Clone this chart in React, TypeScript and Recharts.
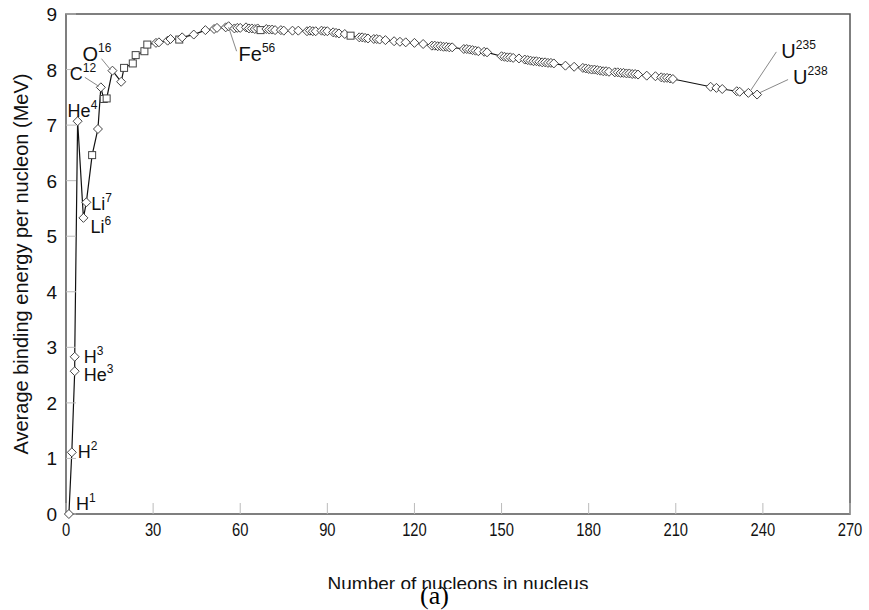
import { LineChart, Line, XAxis, YAxis, ReferenceArea, ReferenceDot } from "recharts";

// nucleon number A and binding energy per nucleon (MeV)
const lightA = [1, 2, 3, 3, 4, 6, 7, 9, 11, 12, 13, 14, 16, 19, 20, 23, 24, 27, 28];
const lightB = [0, 1.11, 2.57, 2.83, 7.07, 5.33, 5.61, 6.46, 6.93, 7.68, 7.47, 7.48, 7.98, 7.78, 8.03, 8.11, 8.26, 8.33, 8.45];

const ironA = [31, 32, 35, 36, 39, 40, 44, 48, 51, 52, 55, 56, 58, 59, 60, 62, 63, 64, 65, 66, 67];
const ironB = [8.48, 8.49, 8.52, 8.55, 8.54, 8.58, 8.63, 8.71, 8.73, 8.75, 8.76, 8.78, 8.74, 8.75, 8.75, 8.76, 8.74, 8.74, 8.73, 8.74, 8.71];

const midA = [69, 70, 71, 72, 74, 75, 78, 80, 83, 84, 85, 86, 88, 89, 90, 92, 93, 94, 96, 98];
const midB = [8.73, 8.72, 8.72, 8.71, 8.71, 8.7, 8.7, 8.7, 8.69, 8.7, 8.69, 8.69, 8.7, 8.69, 8.69, 8.67, 8.66, 8.65, 8.64, 8.61];

const tinA = [101, 102, 103, 104, 106, 107, 108, 110, 113, 115, 117, 120, 123, 126, 127, 128, 129, 130, 131, 132, 133];
const tinB = [8.58, 8.58, 8.57, 8.56, 8.55, 8.55, 8.54, 8.53, 8.51, 8.5, 8.49, 8.48, 8.46, 8.43, 8.43, 8.42, 8.42, 8.41, 8.41, 8.4, 8.4];

const rareA = [137, 138, 139, 140, 141, 142, 144, 145, 150, 151, 152, 153, 154, 156, 158, 159, 160, 161, 162, 163, 164, 165, 166, 167, 168];
const rareB = [8.37, 8.37, 8.36, 8.35, 8.34, 8.33, 8.32, 8.31, 8.24, 8.23, 8.22, 8.22, 8.21, 8.2, 8.18, 8.17, 8.16, 8.15, 8.15, 8.14, 8.13, 8.13, 8.12, 8.12, 8.11];

const leadA = [172, 175, 178, 179, 180, 181, 182, 183, 184, 185, 186, 187, 189, 190, 191, 192, 193, 194, 195, 196, 197, 200, 203, 205, 206, 207, 208, 209];
const leadB = [8.07, 8.05, 8.03, 8.02, 8.01, 8.0, 8.0, 7.99, 7.98, 7.97, 7.97, 7.96, 7.95, 7.95, 7.94, 7.94, 7.93, 7.93, 7.92, 7.92, 7.91, 7.89, 7.88, 7.86, 7.85, 7.85, 7.84, 7.83];

const heavyA = [222, 224, 226, 231, 232, 235, 238];
const heavyB = [7.69, 7.67, 7.65, 7.61, 7.6, 7.58, 7.55];

// nuclei drawn with a square marker instead of a diamond
const squareNuclei = [9, 13, 14, 20, 23, 24, 27, 28, 39, 67, 98];

const xTicks = [0, 30, 60, 90, 120, 150, 180, 210, 240, 270];
const yTicks = [0, 1, 2, 3, 4, 5, 6, 7, 8, 9];

// labelled nuclides
const labelSymbols = ["H", "H", "H", "He", "He", "Li", "Li", "C", "O", "Fe", "U", "U"];
const labelMasses = ["1", "2", "3", "3", "4", "6", "7", "12", "16", "56", "235", "238"];
const labelA = [1, 2, 3, 3, 4, 6, 7, 12, 16, 56, 235, 238];
const labelB = [0, 1.11, 2.83, 2.57, 7.07, 5.33, 5.61, 7.68, 7.98, 8.78, 7.58, 7.55];

// text offset from the point (px), optional leader line [x1, y1, x2, y2]
const labelLayout: { dx: number; dy: number; lead?: number[] }[] = [
  { dx: 7, dy: -4 },
  { dx: 6, dy: 6 },
  { dx: 9, dy: 6 },
  { dx: 9, dy: 10 },
  { dx: -10, dy: -4 },
  { dx: 7, dy: 15 },
  { dx: 5, dy: 8 },
  { dx: -31, dy: -7, lead: [-16, -10, -2, -1] },
  { dx: -30, dy: -10, lead: [-11, -12, -2, -1] },
  { dx: 10, dy: 35, lead: [8, 25, 0, 1] },
  { dx: 33, dy: -35, lead: [28, -41, 2, -2] },
  { dx: 36, dy: -11, lead: [31, -15, 3, -2] },
];

const allA = [...lightA, ...ironA, ...midA, ...tinA, ...rareA, ...leadA, ...heavyA];
const allB = [...lightB, ...ironB, ...midB, ...tinB, ...rareB, ...leadB, ...heavyB];
const data = allA.map((a, i) => ({ a, b: allB[i], square: squareNuclei.includes(a) }));

const SANS = "'Liberation Sans', Arial, Helvetica, sans-serif";

function renderMarker(props: any) {
  const { cx, cy, payload, index } = props;
  if (cx == null || cy == null) return <g key={`m${index}`} />;
  if (payload.square) {
    return (
      <rect key={`m${index}`} x={cx - 3.5} y={cy - 3.5} width={7} height={7} fill="#fff" stroke="#444" strokeWidth={1} />
    );
  }
  const h = 4.5;
  return (
    <path
      key={`m${index}`}
      d={`M${cx},${cy - h}L${cx + h},${cy}L${cx},${cy + h}L${cx - h},${cy}Z`}
      fill="#fff"
      stroke="#444"
      strokeWidth={1}
    />
  );
}

function XTick(props: any) {
  const { x, y, payload } = props;
  return (
    <text
      transform={`translate(${x},${y + 15}) scale(0.82,1)`}
      textAnchor="middle"
      fontFamily={SANS}
      fontSize={18}
      fill="#111"
    >
      {payload.value}
    </text>
  );
}

function YTick(props: any) {
  const { x, y, payload } = props;
  return (
    <text x={x} y={y} dy={7} textAnchor="end" fontFamily={SANS} fontSize={19} fill="#111">
      {payload.value}
    </text>
  );
}

function XTitle(props: any) {
  const vb = props.viewBox;
  return (
    <text x={vb.x + vb.width / 2} y={590} textAnchor="middle" fontFamily={SANS} fontSize={19} fill="#111">
      Number of nucleons in nucleus
    </text>
  );
}

function YTitle(props: any) {
  const vb = props.viewBox;
  const cy = vb.y + vb.height / 2;
  return (
    <text
      x={28}
      y={cy}
      transform={`rotate(-90, 28, ${cy})`}
      textAnchor="middle"
      fontFamily={SANS}
      fontSize={20}
      fill="#111"
    >
      Average binding energy per nucleon (MeV)
    </text>
  );
}

function makeLabel(i: number) {
  const lay = labelLayout[i];
  const big = labelSymbols[i] === "U" || labelSymbols[i] === "Fe" || labelSymbols[i] === "O";
  return (props: any) => {
    const { cx, cy } = props;
    return (
      <g>
        {lay.lead && (
          <line
            x1={cx + lay.lead[0]}
            y1={cy + lay.lead[1]}
            x2={cx + lay.lead[2]}
            y2={cy + lay.lead[3]}
            stroke="#888"
            strokeWidth={1}
          />
        )}
        <text x={cx + lay.dx} y={cy + lay.dy} fontFamily={SANS} fontSize={big ? 20 : 18} fill="#111">
          {labelSymbols[i]}
          <tspan fontSize={12} dy={big ? -9 : -8}>
            {labelMasses[i]}
          </tspan>
        </text>
      </g>
    );
  };
}

export default function App() {
  return (
    <div style={{ position: "absolute", left: 0, top: 0, width: 869, height: 610, overflow: "hidden", background: "#fff" }}>
      <LineChart width={869} height={610} data={data} margin={{ top: 14, right: 19, bottom: 0, left: 0 }}>
        <XAxis
          xAxisId="x"
          type="number"
          dataKey="a"
          domain={[0, 270]}
          ticks={xTicks}
          interval={0}
          height={96}
          axisLine={false}
          tickSize={-11}
          tickMargin={18}
          tickLine={{ stroke: "#bbb" }}
          tick={<XTick />}
          label={XTitle}
        />
        <YAxis
          yAxisId="y"
          type="number"
          domain={[0, 9]}
          ticks={yTicks}
          interval={0}
          width={66}
          axisLine={false}
          tickSize={-10}
          tickMargin={19}
          tickLine={{ stroke: "#bbb" }}
          tick={<YTick />}
          label={YTitle}
        />
        <ReferenceArea
          xAxisId="x"
          yAxisId="y"
          x1={0}
          x2={270}
          y1={0}
          y2={9}
          fill="none"
          fillOpacity={0}
          stroke="#555"
          strokeWidth={1.5}
          ifOverflow="visible"
        />
        <Line
          xAxisId="x"
          yAxisId="y"
          type="linear"
          dataKey="b"
          stroke="#111"
          strokeWidth={1.2}
          dot={renderMarker}
          activeDot={false}
          isAnimationActive={false}
        />
        {labelA.map((a, i) => (
          <ReferenceDot
            key={`lbl${i}`}
            xAxisId="x"
            yAxisId="y"
            x={a}
            y={labelB[i]}
            r={0}
            ifOverflow="visible"
            shape={makeLabel(i)}
          />
        ))}
      </LineChart>
      <div
        style={{
          position: "absolute",
          left: 0,
          top: 589,
          width: 869,
          height: 21,
          background: "#fff",
        }}
      />
      <div
        style={{
          position: "absolute",
          left: 0,
          top: 581,
          width: 869,
          textAlign: "center",
          fontFamily: "'Liberation Serif', 'DejaVu Serif', serif",
          fontSize: 26,
          lineHeight: "30px",
        }}
      >
        (a)
      </div>
    </div>
  );
}
